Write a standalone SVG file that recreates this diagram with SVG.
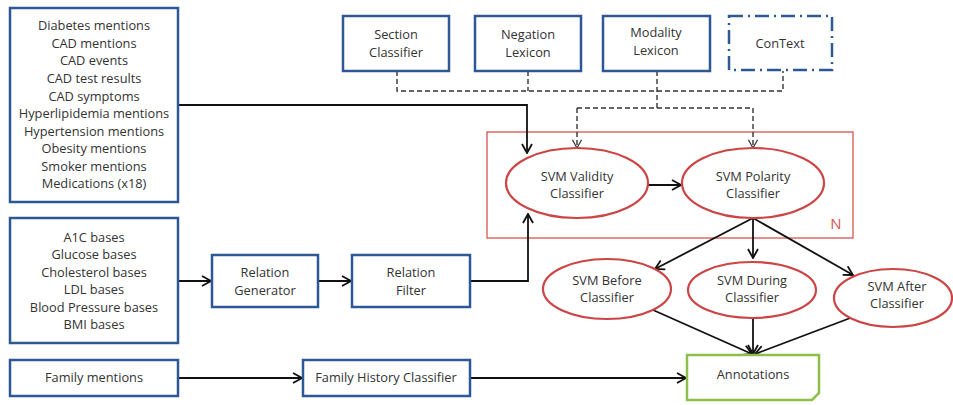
<svg xmlns="http://www.w3.org/2000/svg" width="953" height="405" viewBox="0 0 953 405">
<defs>
<marker id="ah" viewBox="0 0 12 12" refX="11" refY="6" markerWidth="12" markerHeight="12" markerUnits="userSpaceOnUse" orient="auto">
<polyline points="2,1 11,6 2,11" fill="none" stroke="#111" stroke-width="1.8"/>
</marker>
<marker id="ahd" viewBox="0 0 12 12" refX="11" refY="6" markerWidth="11" markerHeight="11" markerUnits="userSpaceOnUse" orient="auto">
<polyline points="2,1 11,6 2,11" fill="none" stroke="#333" stroke-width="1.3"/>
</marker>
</defs>
<style>
text{font-family:"Open Sans","Liberation Sans",sans-serif;font-size:12.8px;fill:#333;text-anchor:middle}
.box{fill:#fff;stroke:#2e5796;stroke-width:2.5}
.ell{fill:#fff;stroke:#cc4444;stroke-width:2.2}
.con{fill:none;stroke:#111;stroke-width:1.8}
.dash{fill:none;stroke:#333;stroke-width:1.4;stroke-dasharray:5 3}
</style>
<rect width="953" height="405" fill="#fff"/>
<rect x="487" y="132" width="366" height="106" fill="none" stroke="#d9534f" stroke-width="1.3"/>
<text x="836" y="229" style="fill:#d9534f;font-size:15px">N</text>
<g id="connectors">
<path class="con" d="M178,105 H527 V153" marker-end="url(#ah)"/>
<path class="con" d="M470,281 H528 V214" marker-end="url(#ah)"/>
<path class="con" d="M178,281 H211" marker-end="url(#ah)"/>
<path class="con" d="M318,281 H351" marker-end="url(#ah)"/>
<path class="con" d="M178,378 H302" marker-end="url(#ah)"/>
<path class="con" d="M470,378 H686" marker-end="url(#ah)"/>
<path class="con" d="M648,185 H681" marker-end="url(#ah)"/>
<path class="con" d="M753,218 L655,269" marker-end="url(#ah)"/>
<path class="con" d="M753,218 V258" marker-end="url(#ah)"/>
<path class="con" d="M753,218 L853,275" marker-end="url(#ah)"/>
<path class="con" d="M653,310 L752,354" marker-end="url(#ah)"/>
<path class="con" d="M753,318 V354" marker-end="url(#ah)"/>
<path class="con" d="M853,317 L755,354" marker-end="url(#ah)"/>
<path class="dash" d="M397,71 V91 H783 V71"/>
<path class="dash" d="M528,71 V91"/>
<path class="dash" d="M657,71 V108"/>
<path class="dash" d="M577,108 H753"/>
<path class="dash" d="M577,108 V148" marker-end="url(#ahd)"/>
<path class="dash" d="M753,108 V148" marker-end="url(#ahd)"/>
</g>
<g id="inputs1">
<rect class="box" x="10" y="8" width="168" height="194"/>
<text x="94" y="30">Diabetes mentions</text>
<text x="94" y="48">CAD mentions</text>
<text x="94" y="65">CAD events</text>
<text x="94" y="83">CAD test results</text>
<text x="94" y="101">CAD symptoms</text>
<text x="94" y="118">Hyperlipidemia mentions</text>
<text x="94" y="136">Hypertension mentions</text>
<text x="94" y="153">Obesity mentions</text>
<text x="94" y="171">Smoker mentions</text>
<text x="94" y="188">Medications (x18)</text>
</g>
<g id="inputs2">
<rect class="box" x="10" y="218" width="168" height="125"/>
<text x="94" y="242">A1C bases</text>
<text x="94" y="259">Glucose bases</text>
<text x="94" y="277">Cholesterol bases</text>
<text x="94" y="294">LDL bases</text>
<text x="94" y="312">Blood Pressure bases</text>
<text x="94" y="329">BMI bases</text>
</g>
<g id="family-mentions">
<rect class="box" x="10" y="360" width="168" height="36"/>
<text x="94" y="382">Family mentions</text>
</g>
<g id="relation-generator">
<rect class="box" x="212" y="255" width="106" height="52"/>
<text x="265" y="277">Relation</text>
<text x="265" y="295">Generator</text>
</g>
<g id="relation-filter">
<rect class="box" x="352" y="255" width="118" height="52"/>
<text x="411" y="277">Relation</text>
<text x="411" y="295">Filter</text>
</g>
<g id="family-history">
<rect class="box" x="303" y="360" width="167" height="36"/>
<text x="386" y="382">Family History Classifier</text>
</g>
<g id="section-classifier">
<rect class="box" x="343" y="16" width="106" height="55"/>
<text x="396" y="39">Section</text>
<text x="396" y="57">Classifier</text>
</g>
<g id="negation-lexicon">
<rect class="box" x="475" y="16" width="106" height="55"/>
<text x="528" y="39">Negation</text>
<text x="528" y="57">Lexicon</text>
</g>
<g id="modality-lexicon">
<rect class="box" x="603" y="16" width="107" height="55"/>
<text x="656" y="37">Modality</text>
<text x="656" y="55">Lexicon</text>
</g>
<g id="context">
<rect x="729" y="16" width="103" height="54" fill="#fff" stroke="#2e5796" stroke-width="2.5" stroke-dasharray="14 5 2 5"/>
<text x="780" y="48">ConText</text>
</g>
<g id="svm-validity">
<ellipse class="ell" cx="577" cy="183" rx="71" ry="35"/>
<text x="577" y="181">SVM Validity</text>
<text x="577" y="198">Classifier</text>
</g>
<g id="svm-polarity">
<ellipse class="ell" cx="753" cy="183" rx="71" ry="35"/>
<text x="753" y="181">SVM Polarity</text>
<text x="753" y="198">Classifier</text>
</g>
<g id="svm-before">
<ellipse class="ell" cx="607" cy="289" rx="64" ry="30"/>
<text x="607" y="285">SVM Before</text>
<text x="607" y="302">Classifier</text>
</g>
<g id="svm-during">
<ellipse class="ell" cx="752" cy="290" rx="64" ry="28"/>
<text x="752" y="285">SVM During</text>
<text x="752" y="302">Classifier</text>
</g>
<g id="svm-after">
<ellipse class="ell" cx="893" cy="298" rx="59" ry="29"/>
<text x="897" y="291">SVM After</text>
<text x="897" y="308">Classifier</text>
</g>
<g id="annotations">
<path d="M687,355 H819 V393 L812,400 H687 Z" fill="#fff" stroke="#8cc04a" stroke-width="2.5"/>
<text x="753" y="379">Annotations</text>
</g>
</svg>
